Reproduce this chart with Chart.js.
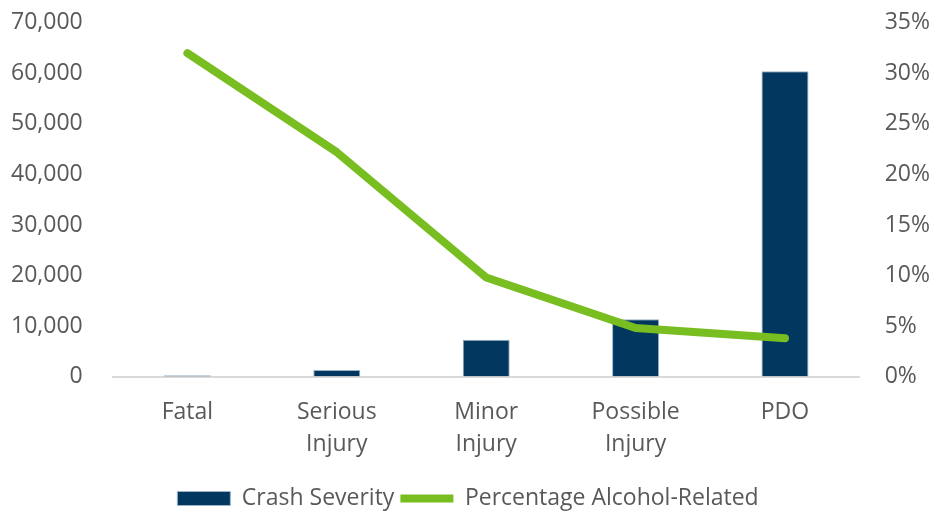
<!DOCTYPE html>
<html>
<head>
<meta charset="utf-8">
<script src="https://cdn.jsdelivr.net/npm/chart.js@4/dist/chart.umd.min.js"></script>
<style>
  html, body { margin: 0; padding: 0; background: #fff; overflow: hidden; width: 935px; height: 512px; }
  #wrap { position: absolute; left: -25px; top: -21px; width: 984px; height: 541px; }
</style>
</head>
<body>
<div id="wrap"><canvas id="chart"></canvas></div>
<script>
// data
var categories = [['Fatal'], ['Serious', 'Injury'], ['Minor', 'Injury'], ['Possible', 'Injury'], ['PDO']];
var crashSeverity = [250, 1320, 7300, 11350, 60400];
var pctAlcohol = [32.0, 22.2, 9.8, 4.8, 3.8];

var navy = '#02375f';
var green = '#78be20';
var textGrey = '#595959';

Chart.defaults.font.family = '"Open Sans", sans-serif';
Chart.defaults.font.size = 23;
Chart.defaults.color = textGrey;

var ctx = document.getElementById('chart').getContext('2d');
new Chart(ctx, {
	type: 'bar',
	data: {
		labels: categories,
		datasets: [{
			type: 'line',
			label: 'Percentage Alcohol-Related',
			data: pctAlcohol,
			yAxisID: 'y2',
			borderColor: green,
			backgroundColor: green,
			borderWidth: 8,
			borderCapStyle: 'round',
			borderJoinStyle: 'round',
			pointRadius: 0,
			pointStyle: 'line',
			tension: 0,
			order: 0
		}, {
			type: 'bar',
			label: 'Crash Severity',
			data: crashSeverity,
			yAxisID: 'y',
			backgroundColor: navy,
			borderColor: '#9db2c7',
			borderWidth: 1,
			pointStyle: 'rect',
			categoryPercentage: 1,
			barPercentage: 0.315,
			order: 1
		}]
	},
	options: {
		responsive: true,
		maintainAspectRatio: false,
		animation: false,
		layout: { padding: { left: 6, right: 4, top: 0, bottom: 0 } },
		plugins: {
			tooltip: { enabled: false },
			legend: {
				position: 'bottom',
				reverse: true,
				labels: {
					usePointStyle: true,
					pointStyleWidth: 53,
					boxHeight: 14,
					padding: 6,
					color: textGrey
				}
			}
		},
		scales: {
			x: {
				grid: { display: false, drawTicks: false },
				border: { color: '#d9d9d9', width: 2 },
				ticks: { padding: 20, maxRotation: 0, font: { lineHeight: 1.4 } }
			},
			y: {
				position: 'left',
				min: 0,
				max: 70000,
				grid: { display: false, drawTicks: false },
				border: { display: false },
				ticks: {
					stepSize: 10000,
					padding: 30,
					callback: function(v) { return v.toLocaleString('en-US'); }
				}
			},
			y2: {
				position: 'right',
				min: 0,
				max: 35,
				grid: { display: false, drawTicks: false },
				border: { display: false },
				ticks: {
					stepSize: 5,
					padding: 25,
					callback: function(v) { return v + '%'; }
				}
			}
		}
	}
});
</script>
</body>
</html>
